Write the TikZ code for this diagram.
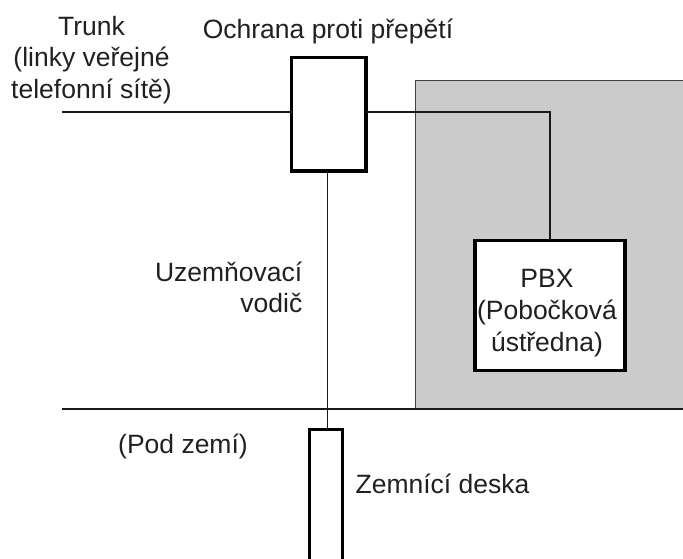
\documentclass[tikz,border=0pt]{standalone}
\usepackage{fontspec}
\setmainfont{Liberation Sans}
\definecolor{panel}{HTML}{CBCBCB}
\definecolor{ink}{HTML}{231F20}
\tikzset{
 px/.style={x=1pt,y=-1pt},
 wire/.style={draw=black!90,line width=1.05pt},
 boxx/.style={draw=black,line width=3.2pt,inner sep=0pt,outer sep=0pt,fill=white},
 lab/.style={inner sep=0pt,align=center,text=ink,font=\fontsize{26.5}{31.7}\selectfont}
}
\begin{document}
\begin{tikzpicture}[px]
\useasboundingbox (0,0) rectangle (683,558);
\fill[panel] (415,80) rectangle (683,409);
\draw[black!75,line width=1pt] (415,409) -- (415,80) -- (683,80);
\coordinate (trunkend) at (62,112);
\coordinate (corner) at (550,112);
\coordinate (gl) at (62,409);
\coordinate (gr) at (683,409);
\coordinate (gnd) at (327.5,409);
\node[boxx,minimum width=74.5pt,minimum height=113.5pt] (surge) at (328.75,114.25) {};
\node[boxx,minimum width=150pt,minimum height=130.4pt] (pbx) at (550,305.5) {};
\node[boxx,minimum width=33pt,minimum height=140pt,anchor=north] (plate) at (325.75,429.5) {};
\draw[wire] (trunkend) -- (surge.west |- trunkend);
\draw[wire] (surge.east |- corner) -- (corner) -- (corner |- pbx.north);
\draw[wire] (surge.south -| gnd) -- (plate.north -| gnd);
\draw[wire] (gl) -- (gr);
\node[lab] (t0) at (547,313) {PBX\\(Pobočková\\ústředna)};
\node[lab] (t1) at (91.5,60) {Trunk\\(linky veřejné\\telefonní sítě)};
\node[lab] (t2) at (328,31) {Ochrana proti přepětí};
\node[lab,align=right,anchor=east] (t3) at (302.5,287.5) {Uzemňovací\\vodič};
\node[lab] (t4) at (183,446) {(Pod zemí)};
\node[lab] (t5) at (442.5,483.5) {Zemnící deska};
\end{tikzpicture}
\end{document}
